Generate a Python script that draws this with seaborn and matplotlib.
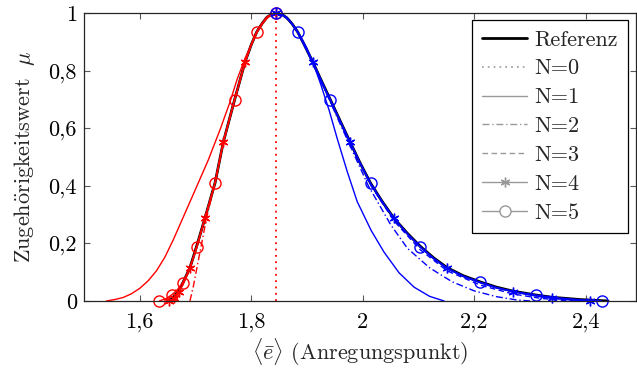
import numpy as np
import pandas as pd
from matplotlib import pyplot as plt
from matplotlib.lines import Line2D
import seaborn as sns

# Referenzkurve (links / rechts vom Maximum)
ref_left_x = [1.650, 1.657, 1.664, 1.671, 1.678, 1.690, 1.702, 1.717, 1.735, 1.750, 1.770, 1.789, 1.800, 1.810, 1.820, 1.828, 1.835, 1.845]
ref_left_y = [0.000, 0.008, 0.022, 0.038, 0.066, 0.115, 0.190, 0.288, 0.410, 0.553, 0.698, 0.831, 0.890, 0.935, 0.965, 0.985, 0.994, 1.000]
ref_right_x = [1.845, 1.855, 1.864, 1.873, 1.883, 1.895, 1.910, 1.925, 1.942, 1.960, 1.977, 1.995, 2.014, 2.035,
               2.056, 2.080, 2.103, 2.127, 2.151, 2.180, 2.211, 2.240, 2.270, 2.310, 2.339, 2.390, 2.440]
ref_right_y = [1.000, 0.995, 0.983, 0.963, 0.935, 0.890, 0.831, 0.768, 0.698, 0.623, 0.553, 0.480, 0.409, 0.345,
               0.287, 0.235, 0.190, 0.150, 0.116, 0.088, 0.066, 0.048, 0.034, 0.021, 0.013, 0.005, 0.000]

# N=0: scharfer Wert
n0_x = [1.845, 1.845]
n0_y = [0.0, 1.0]

# N=1
n1_left_x = [1.540, 1.555, 1.570, 1.585, 1.600, 1.615, 1.630, 1.645, 1.660, 1.680, 1.702, 1.723, 1.745, 1.762,
             1.775, 1.789, 1.800, 1.810, 1.820, 1.830, 1.838, 1.845]
n1_left_y = [0.000, 0.005, 0.012, 0.025, 0.044, 0.070, 0.105, 0.152, 0.212, 0.300, 0.397, 0.490, 0.600, 0.692,
             0.772, 0.843, 0.890, 0.932, 0.963, 0.985, 0.996, 1.000]
n1_right_x = [1.845, 1.855, 1.870, 1.885, 1.900, 1.915, 1.925, 1.940, 1.954, 1.972, 1.990, 2.015, 2.038, 2.065,
              2.092, 2.120, 2.146]
n1_right_y = [1.000, 0.995, 0.970, 0.930, 0.877, 0.805, 0.750, 0.660, 0.565, 0.450, 0.345, 0.245, 0.170, 0.098,
              0.048, 0.016, 0.000]

# N=2
n2_left_x = [1.690, 1.696, 1.703, 1.711, 1.720, 1.735, 1.750, 1.770, 1.789, 1.800, 1.810, 1.820, 1.828, 1.835, 1.845]
n2_left_y = [0.000, 0.050, 0.120, 0.200, 0.290, 0.410, 0.553, 0.698, 0.831, 0.890, 0.935, 0.965, 0.985, 0.994, 1.000]
n2_right_x = [1.845, 1.855, 1.864, 1.873, 1.883, 1.895, 1.910, 1.925, 1.942, 1.960, 1.977, 2.010, 2.050, 2.080,
              2.120, 2.160, 2.200, 2.240, 2.275, 2.300]
n2_right_y = [1.000, 0.995, 0.983, 0.962, 0.933, 0.887, 0.827, 0.763, 0.690, 0.612, 0.540, 0.400, 0.265, 0.183,
              0.115, 0.067, 0.035, 0.015, 0.004, 0.000]

# N=3
n3_left_x = [1.660, 1.668, 1.678, 1.690, 1.702, 1.717, 1.735, 1.750, 1.770, 1.789, 1.800, 1.810, 1.820, 1.828, 1.835, 1.845]
n3_left_y = [0.000, 0.020, 0.060, 0.112, 0.188, 0.287, 0.410, 0.553, 0.698, 0.831, 0.890, 0.935, 0.965, 0.985, 0.994, 1.000]
n3_right_x = [1.845, 1.855, 1.864, 1.873, 1.883, 1.895, 1.910, 1.925, 1.942, 1.960, 1.977, 2.014, 2.056, 2.103,
              2.151, 2.211, 2.270, 2.320, 2.360, 2.380]
n3_right_y = [1.000, 0.995, 0.983, 0.963, 0.935, 0.889, 0.830, 0.766, 0.695, 0.620, 0.548, 0.403, 0.278, 0.178,
              0.105, 0.055, 0.024, 0.009, 0.002, 0.000]

# N=4 (Linie und Marker)
n4_left_x = [1.653, 1.662, 1.671, 1.680, 1.690, 1.703, 1.717, 1.735, 1.750, 1.770, 1.789, 1.800, 1.810, 1.820, 1.828, 1.835, 1.845]
n4_left_y = [0.000, 0.009, 0.032, 0.068, 0.113, 0.190, 0.287, 0.410, 0.553, 0.698, 0.831, 0.890, 0.935, 0.965, 0.985, 0.994, 1.000]
n4_right_x = [1.845, 1.855, 1.864, 1.873, 1.883, 1.895, 1.910, 1.925, 1.942, 1.960, 1.977, 1.995, 2.014, 2.035,
              2.056, 2.080, 2.103, 2.127, 2.151, 2.180, 2.211, 2.240, 2.270, 2.305, 2.339, 2.375, 2.408]
n4_right_y = [1.000, 0.995, 0.983, 0.963, 0.935, 0.889, 0.831, 0.767, 0.697, 0.622, 0.553, 0.479, 0.407, 0.343,
              0.287, 0.233, 0.187, 0.147, 0.113, 0.085, 0.063, 0.045, 0.032, 0.019, 0.009, 0.003, 0.000]
n4_mark_left_x = [1.653, 1.662, 1.671, 1.690, 1.717, 1.750, 1.789, 1.845]
n4_mark_left_y = [0.000, 0.009, 0.032, 0.113, 0.287, 0.553, 0.831, 1.000]
n4_mark_right_x = [1.845, 1.910, 1.977, 2.056, 2.151, 2.270, 2.339, 2.408]
n4_mark_right_y = [1.000, 0.831, 0.553, 0.287, 0.113, 0.032, 0.009, 0.000]

# N=5 (Linie und Marker)
n5_left_x = [1.635, 1.647, 1.657, 1.667, 1.677, 1.690, 1.702, 1.717, 1.735, 1.750, 1.770, 1.789, 1.800, 1.810, 1.820, 1.828, 1.835, 1.845]
n5_left_y = [0.000, 0.008, 0.021, 0.038, 0.064, 0.115, 0.189, 0.290, 0.409, 0.553, 0.698, 0.831, 0.890, 0.935, 0.965, 0.985, 0.994, 1.000]
n5_right_x = [1.845, 1.855, 1.864, 1.873, 1.883, 1.895, 1.910, 1.925, 1.942, 1.960, 1.977, 1.995, 2.014, 2.035,
              2.056, 2.080, 2.103, 2.127, 2.151, 2.180, 2.211, 2.240, 2.270, 2.310, 2.339, 2.385, 2.429]
n5_right_y = [1.000, 0.995, 0.983, 0.963, 0.935, 0.890, 0.831, 0.768, 0.698, 0.623, 0.553, 0.480, 0.409, 0.345,
              0.287, 0.234, 0.189, 0.149, 0.115, 0.087, 0.065, 0.047, 0.033, 0.021, 0.013, 0.005, 0.000]
n5_mark_left_x = [1.635, 1.657, 1.677, 1.702, 1.735, 1.770, 1.810, 1.845]
n5_mark_left_y = [0.000, 0.021, 0.064, 0.189, 0.409, 0.698, 0.935, 1.000]
n5_mark_right_x = [1.845, 1.883, 1.942, 2.014, 2.103, 2.211, 2.310, 2.429]
n5_mark_right_y = [1.000, 0.935, 0.698, 0.409, 0.189, 0.065, 0.021, 0.000]

x_ticks = [1.6, 1.8, 2.0, 2.2, 2.4]
x_tick_labels = ['1,6', '1,8', '2', '2,2', '2,4']
y_ticks = [0, 0.2, 0.4, 0.6, 0.8, 1.0]
y_tick_labels = ['0', '0,2', '0,4', '0,6', '0,8', '1']

sns.set_style('ticks')
plt.rcParams['font.family'] = ['cmr10', 'DejaVu Serif']
plt.rcParams['mathtext.fontset'] = 'cm'
plt.rcParams['axes.formatter.use_mathtext'] = True
fs = 16

fig = plt.figure(figsize=(6.37, 3.74), dpi=100)
ax = fig.add_axes([84 / 637, 1 - 301 / 374, (636 - 84) / 637, (301 - 13) / 374])

red, blue = '#ff0000', '#0000ff'
thin = 1.0
star = (6, 2, 0)
dashdot = (0, (5, 2, 1, 2))
dashed = (0, (4, 2.5))


def curve(x, y, **kw):
    sns.lineplot(x=x, y=y, ax=ax, sort=False, estimator=None, legend=False, **kw)


# Referenz
curve(ref_left_x, ref_left_y, color='black', linewidth=2.0)
curve(ref_right_x, ref_right_y, color='black', linewidth=2.0)

sides = {
    red: [(n1_left_x, n1_left_y), (n2_left_x, n2_left_y), (n3_left_x, n3_left_y),
          (n4_left_x, n4_left_y), (n5_left_x, n5_left_y),
          (n4_mark_left_x, n4_mark_left_y), (n5_mark_left_x, n5_mark_left_y)],
    blue: [(n1_right_x, n1_right_y), (n2_right_x, n2_right_y), (n3_right_x, n3_right_y),
           (n4_right_x, n4_right_y), (n5_right_x, n5_right_y),
           (n4_mark_right_x, n4_mark_right_y), (n5_mark_right_x, n5_mark_right_y)],
}
# links rot, rechts blau
for col, d in sides.items():
    curve(*d[0], color=col, linewidth=thin, linestyle='-')
    curve(*d[1], color=col, linewidth=thin, linestyle=dashdot)
    curve(*d[2], color=col, linewidth=thin, linestyle=dashed)
    curve(*d[3], color=col, linewidth=thin)
    curve(*d[4], color=col, linewidth=thin)
    # Marker nicht am Achsenrand abschneiden
    curve(*d[5], color=col, linestyle='none', marker=star, markersize=7,
          markeredgecolor=col, markeredgewidth=1.0, clip_on=False)
    curve(*d[6], color=col, linestyle='none', marker='o', markersize=8,
          markerfacecolor='none', markeredgecolor=col, markeredgewidth=1.0, clip_on=False)

# N=0
curve(n0_x, n0_y, color=red, linewidth=1.3, linestyle=(0, (1, 2.5)))

ax.set_xlim(1.5, 2.49)
ax.set_ylim(0, 1)
ax.set_xticks(x_ticks)
ax.set_xticklabels(x_tick_labels)
ax.set_yticks(y_ticks)
ax.set_yticklabels(y_tick_labels)
ax.tick_params(axis='both', direction='in', top=True, right=True, length=4.5, width=0.8,
               color='0.35', labelsize=fs, labelcolor='black')
ax.tick_params(axis='x', pad=8)
ax.tick_params(axis='y', pad=5)
for s in ax.spines.values():
    s.set_linewidth(0.9)
    s.set_color('0.15')

ax.set_xlabel(r'$\langle\bar{e}\rangle$ (Anregungspunkt)', fontsize=fs, labelpad=3)
ax.set_ylabel(r'$\mathrm{Zugeh\ddot{o}rigkeitswert}\ \ \mu$', fontsize=fs, labelpad=8)

gray = '0.6'
handles = [
    Line2D([], [], color='black', linewidth=2.0),
    Line2D([], [], color=gray, linewidth=1.2, linestyle=(0, (1, 2.5))),
    Line2D([], [], color=gray, linewidth=thin),
    Line2D([], [], color=gray, linewidth=thin, linestyle=dashdot),
    Line2D([], [], color=gray, linewidth=thin, linestyle=dashed),
    Line2D([], [], color=gray, linewidth=thin, marker=star, markersize=7),
    Line2D([], [], color=gray, linewidth=thin, marker='o', markersize=8, markerfacecolor='white'),
]
labels = ['Referenz', 'N=0', 'N=1', 'N=2', 'N=3', 'N=4', 'N=5']
leg = ax.legend(handles, labels, loc='upper right', bbox_to_anchor=(628 / 637, 1 - 20 / 374),
                bbox_transform=fig.transFigure, fontsize=fs, fancybox=False, framealpha=1,
                edgecolor='black', borderpad=0.45, labelspacing=0.42, handlelength=2.0,
                handletextpad=0.35, borderaxespad=0)
leg.get_frame().set_linewidth(0.9)

plt.savefig('out.png', dpi=100)
plt.close()
